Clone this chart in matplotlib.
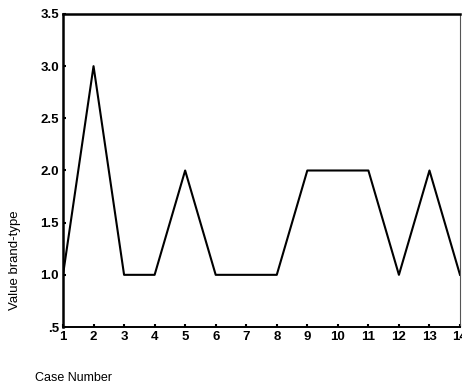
from matplotlib import pyplot as plt
import numpy as np

# data
cases = np.arange(1, 15)
brand_type = [1, 3, 1, 1, 2, 1, 1, 1, 2, 2, 2, 1, 2, 1]
y_ticks = [0.5, 1.0, 1.5, 2.0, 2.5, 3.0, 3.5]
y_tick_labels = [".5", "1.0", "1.5", "2.0", "2.5", "3.0", "3.5"]

plt.rcParams['font.family'] = ['Liberation Sans', 'DejaVu Sans']

fig = plt.figure(figsize=(4.62, 3.92), dpi=100)
ax = fig.add_axes([63 / 462, 1 - 327 / 392, 397 / 462, 313 / 392])

ax.plot(cases, brand_type, color="black", linewidth=1.5)

ax.set_xlim(1, 14)
ax.set_ylim(0.5, 3.5)
ax.set_xticks(cases)
ax.set_xticklabels([str(c) for c in cases], fontsize=9.5, fontweight="bold")
ax.set_yticks(y_ticks)
ax.set_yticklabels(y_tick_labels, fontsize=9.5, fontweight="bold")
ax.tick_params(direction="in", length=2, width=1.5, pad=3)

ax.spines['left'].set_linewidth(1.8)
ax.spines['top'].set_linewidth(1.8)
ax.spines['bottom'].set_linewidth(1.4)
ax.spines['right'].set_linewidth(0.8)
ax.spines['right'].set_color("#555555")

fig.text(15 / 462, 1 - 260 / 392, "Value brand-type", rotation=90,
         ha="center", va="center", fontsize=9.5)
fig.text(35 / 462, 1 - 378 / 392, "Case Number", ha="left", va="center",
         fontsize=9)

fig.savefig("out.png", dpi=100)
